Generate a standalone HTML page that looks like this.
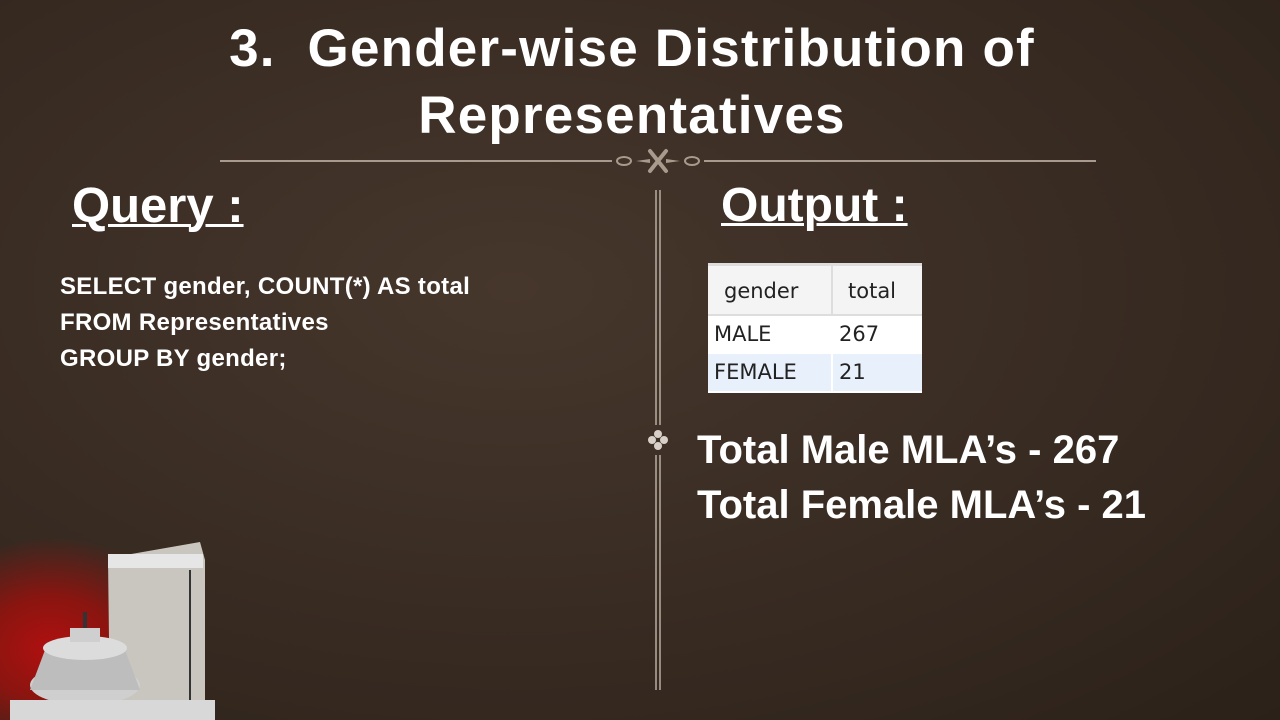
<!DOCTYPE html>
<html><head><meta charset="utf-8"><style>
body{margin:0;width:1280px;height:720px;overflow:hidden;font-family:"Liberation Sans",sans-serif;}
#s{position:relative;width:1280px;height:720px;background:radial-gradient(ellipse at 40% 40%,#46372c 0%,#382b22 55%,#2b2119 100%);overflow:hidden;}
.t{position:absolute;color:#fff;font-weight:bold;white-space:nowrap;}
</style></head><body>
<div id="s">
<div class="t" style="left:0;width:1264px;text-align:center;top:15px;font-size:53px;line-height:67px;letter-spacing:1.2px;">3.&nbsp; Gender-wise Distribution of<br>Representatives</div>
<svg style="position:absolute;left:220px;top:148px" width="876" height="26">
<line x1="0" y1="13" x2="392" y2="13" stroke="#a89a8c" stroke-width="2"/>
<line x1="484" y1="13" x2="876" y2="13" stroke="#a89a8c" stroke-width="2"/>
<ellipse cx="404" cy="13" rx="7" ry="4" fill="none" stroke="#a89a8c" stroke-width="2"/>
<ellipse cx="472" cy="13" rx="7" ry="4" fill="none" stroke="#a89a8c" stroke-width="2"/>
<path d="M416 13 L430 11 L430 15Z M460 13 L446 11 L446 15Z" fill="#a89a8c"/>
<path d="M430 3 L446 23 M446 3 L430 23" stroke="#a89a8c" stroke-width="4" stroke-linecap="round"/>
</svg>
<div class="t" style="left:72px;top:178px;font-size:49px;text-decoration:underline;text-decoration-thickness:3px;">Query :</div>
<div class="t" style="left:60px;top:269px;font-size:24px;line-height:36px;letter-spacing:0.3px;">SELECT gender, COUNT(*) AS total<br>FROM Representatives<br>GROUP BY gender;</div>
<div class="t" style="left:721px;top:178px;font-size:48px;text-decoration:underline;text-decoration-thickness:3px;">Output :</div>
<svg style="position:absolute;left:645px;top:190px" width="26" height="500">
<line x1="11" y1="0" x2="11" y2="235" stroke="#b8aca0" stroke-width="1.5"/>
<line x1="15" y1="0" x2="15" y2="235" stroke="#b8aca0" stroke-width="1.5"/>
<line x1="11" y1="265" x2="11" y2="500" stroke="#b8aca0" stroke-width="1.5"/>
<line x1="15" y1="265" x2="15" y2="500" stroke="#b8aca0" stroke-width="1.5"/>
<g fill="#d8d0c8"><circle cx="13" cy="244" r="4"/><circle cx="13" cy="256" r="4"/><circle cx="7" cy="250" r="4"/><circle cx="19" cy="250" r="4"/></g>
</svg>
<div style="position:absolute;left:708px;top:263px;width:214px;height:130px;background:#fff;font-family:'DejaVu Sans',sans-serif;font-size:21px;color:#222;">
<div style="position:absolute;left:0;top:0;width:214px;height:53px;background:#f4f4f4;border-top:3px solid #ddd;border-bottom:2px solid #ddd;box-sizing:border-box;"></div>
<div style="position:absolute;left:123px;top:0;width:2px;height:53px;background:#ddd"></div>
<div style="position:absolute;left:0;top:91px;width:214px;height:37px;background:#e8f0fc"></div>
<div style="position:absolute;left:123px;top:91px;width:2px;height:37px;background:#fff"></div>
<div style="position:absolute;left:16px;top:16px;">gender</div><div style="position:absolute;left:140px;top:16px;">total</div>
<div style="position:absolute;left:6px;top:59px;">MALE</div><div style="position:absolute;left:131px;top:59px;">267</div>
<div style="position:absolute;left:6px;top:97px;">FEMALE</div><div style="position:absolute;left:131px;top:97px;">21</div>
</div>
<div class="t" style="left:697px;top:426px;font-size:40px;line-height:48px;">Total Male MLA’s - 267</div>
<div class="t" style="left:697px;top:481px;font-size:40px;line-height:48px;">Total Female MLA’s - 21</div>
<div style="position:absolute;left:-120px;top:500px;width:380px;height:220px;background:radial-gradient(ellipse 190px 150px at 45% 68%,#b01010 0%,#8a1510 35%,rgba(70,30,20,0) 75%);"></div>
<svg style="position:absolute;left:0;top:530px" width="260" height="190">
<path d="M108 28 L200 12 L205 30 L205 180 L190 185 L110 190 Z" fill="#c9c6c0"/>
<rect x="108" y="24" width="95" height="14" fill="#e6e6e6"/>
<line x1="190" y1="40" x2="190" y2="182" stroke="#333" stroke-width="2"/>
<ellipse cx="85" cy="155" rx="55" ry="20" fill="#cfcfcf"/>
<path d="M30 160 L45 120 L125 120 L140 160 Z" fill="#bdbdbd"/>
<ellipse cx="85" cy="118" rx="42" ry="12" fill="#dcdcdc"/>
<rect x="70" y="98" width="30" height="14" fill="#cfcfcf"/>
<rect x="83" y="82" width="4" height="16" fill="#333"/>
<rect x="10" y="170" width="205" height="20" fill="#d8d8d8"/>
</svg>
</div>
</body></html>
